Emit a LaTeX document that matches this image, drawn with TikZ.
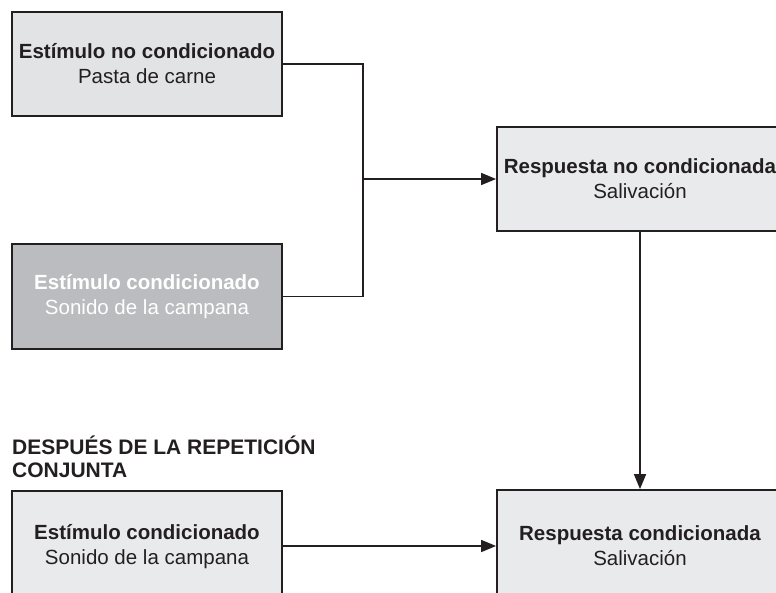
\documentclass[tikz,border=0pt]{standalone}
\usepackage{fontspec}
\setmainfont{Liberation Sans}
\usetikzlibrary{arrows.meta}
\definecolor{ink}{HTML}{231F20}
\definecolor{boxA}{HTML}{E2E3E5}
\definecolor{boxB}{HTML}{BBBCBF}
\definecolor{boxC}{HTML}{E9EAEB}
\tikzset{
  stagebox/.style={draw=ink, line width=1.8pt, rectangle, inner sep=0pt,
    align=center, text=ink, font=\fontsize{20.5}{25}\selectfont},
  conn/.style={draw=ink, line width=1.6pt},
  arr/.style={conn, -{Triangle[length=15pt,width=12pt]}},
}
\begin{document}
\begin{tikzpicture}[x=1pt,y=-1pt]
\useasboundingbox (0,0) rectangle (776,593);
\clip (0,0) rectangle (776,593);
\node[stagebox, fill=boxA, minimum width=270pt, minimum height=104pt] (us) at (147,64)
  {\textbf{Estímulo no condicionado}\\Pasta de carne};
\node[stagebox, fill=boxB, text=white, minimum width=270pt, minimum height=105pt] (cs) at (147,296.5)
  {\textbf{Estímulo condicionado}\\Sonido de la campana};
\node[stagebox, fill=boxC, minimum width=286pt, minimum height=104pt] (ur) at (640,179)
  {\textbf{Respuesta no condicionada}\\Salivación};
\node[stagebox, fill=boxC, minimum width=270pt, minimum height=112pt] (cs2) at (147,547)
  {\textbf{Estímulo condicionado}\\Sonido de la campana};
\node[stagebox, fill=boxC, minimum width=286pt, minimum height=112pt] (cr) at (640,546)
  {\textbf{Respuesta condicionada}\\Salivación};
\node[anchor=north west, align=left, inner sep=0pt, text=ink,
  font=\bfseries\fontsize{21}{23}\selectfont] (head) at (12,436)
  {DESPUÉS DE LA REPETICIÓN\\CONJUNTA};
\coordinate (j1) at (363,64);
\coordinate (j2) at (363,296.5);
\coordinate (jm) at (363,179);
\draw[conn] (us.east) -- (j1) -- (j2) -- (cs.east);
\draw[arr] (jm) -- (ur.west);
\draw[arr] (ur.south) -- (cr.north);
\draw[arr] (cs2.east |- cr.west) -- (cr.west);
\end{tikzpicture}
\end{document}
